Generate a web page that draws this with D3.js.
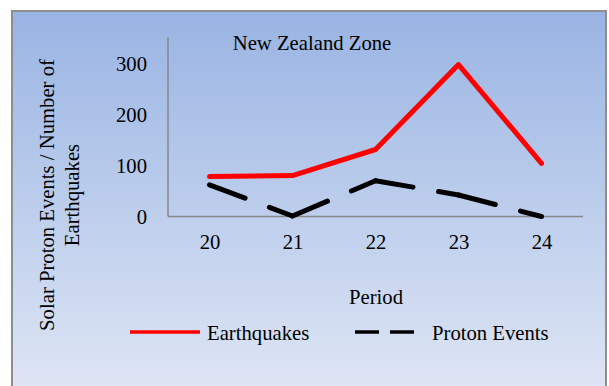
<!DOCTYPE html>
<html>
<head>
<meta charset="utf-8">
<script src="https://cdn.jsdelivr.net/npm/d3@7"></script>
<style>
  html, body { margin: 0; padding: 0; background: #ffffff; }
  svg { display: block; }
  text { font-family: "Liberation Serif", "Times New Roman", serif; fill: #000; }
</style>
</head>
<body>
<svg id="chart" width="609" height="386"></svg>
<script>
// Solar cycles on the x axis
const periods = ["20", "21", "22", "23", "24"];
// Number of earthquakes per cycle
const earthquakes = [78, 80, 131, 297, 104];
// Number of solar proton events per cycle
const protonEvents = [62, 1, 70, 42, 0];
const yTicks = [0, 100, 200, 300];
const yMax = 350;

const title = "New Zealand Zone";
const xTitle = "Period";
const yTitleLines = ["Solar Proton Events / Number of", "Earthquakes"];
const seriesNames = ["Earthquakes", "Proton Events"];

const fontSize = 20.7;
const svg = d3.select("#chart");

// Background panel with vertical blue gradient
const defs = svg.append("defs");
const grad = defs.append("linearGradient")
  .attr("id", "bg").attr("x1", 0).attr("y1", 0).attr("x2", 0).attr("y2", 1);
grad.append("stop").attr("offset", "0%").attr("stop-color", "#99b4e3");
grad.append("stop").attr("offset", "100%").attr("stop-color", "#e0e7f5");

svg.append("rect")
  .attr("x", 12).attr("y", 11).attr("width", 594).attr("height", 390)
  .attr("fill", "url(#bg)")
  .attr("stroke", "#8e8e8e").attr("stroke-width", 2);

// Plot area
const plotLeft = 168, plotRight = 583, plotTop = 37.5, plotBottom = 216.5;

const x = d3.scalePoint().domain(periods).range([plotLeft, plotRight]).padding(0.5);
const y = d3.scaleLinear().domain([0, yMax]).range([plotBottom, plotTop]);

// Axes (lines only, no tick marks)
const yAxis = svg.append("g").attr("transform", `translate(${plotLeft},0)`)
  .call(d3.axisLeft(y).tickValues(yTicks).tickSize(0).tickPadding(21).tickFormat(d3.format("d")));
yAxis.select(".domain").attr("stroke", "#878787").attr("stroke-width", 1.5)
  .attr("d", `M0,${plotTop}V${plotBottom}`);
yAxis.selectAll("text").attr("font-size", fontSize).attr("font-family", "Liberation Serif")
  .attr("dy", "0.34em");

const xAxis = svg.append("g").attr("transform", `translate(0,${plotBottom})`)
  .call(d3.axisBottom(x).tickSize(0).tickPadding(28));
xAxis.select(".domain").attr("stroke", "#878787").attr("stroke-width", 1.5)
  .attr("d", `M${plotLeft},0H${plotRight}`);
xAxis.selectAll("text").attr("font-size", fontSize).attr("font-family", "Liberation Serif")
  .attr("dy", "0.2em");

// Earthquakes: solid red line
const line = d3.line().x(d => x(d[0])).y(d => y(d[1]));
const eqPts = periods.map((p, i) => [p, earthquakes[i]]);
svg.append("path")
  .attr("d", line(eqPts))
  .attr("fill", "none").attr("stroke", "#ff0000")
  .attr("stroke-width", 5).attr("stroke-linejoin", "round").attr("stroke-linecap", "round");

// Proton events: long-dash black line, dash pattern restarting at each point
const prPts = periods.map((p, i) => [p, protonEvents[i]]);
d3.pairs(prPts).forEach(seg => {
  svg.append("path")
    .attr("d", line(seg))
    .attr("fill", "none").attr("stroke", "#000000")
    .attr("stroke-width", 5).attr("stroke-linecap", "round")
    .attr("stroke-dasharray", "38,26");
});

// Titles
svg.append("text").attr("x", 312).attr("y", 50).attr("text-anchor", "middle")
  .attr("font-size", fontSize).text(title);

svg.append("text").attr("x", 376).attr("y", 304).attr("text-anchor", "middle")
  .attr("font-size", fontSize).text(xTitle);

const yt = svg.append("text")
  .attr("transform", "translate(54,195) rotate(-90)")
  .attr("text-anchor", "middle").attr("font-size", fontSize);
yt.selectAll("tspan").data(yTitleLines).join("tspan")
  .attr("x", 0).attr("dy", (d, i) => i === 0 ? 0 : 25).text(d => d);

// Legend
const lg = svg.append("g");
lg.append("line").attr("x1", 130).attr("x2", 200).attr("y1", 332).attr("y2", 332)
  .attr("stroke", "#ff0000").attr("stroke-width", 3.5);
lg.append("text").attr("x", 207).attr("y", 340).attr("font-size", fontSize).text(seriesNames[0]);
lg.append("line").attr("x1", 355).attr("x2", 415).attr("y1", 332).attr("y2", 332)
  .attr("stroke", "#000000").attr("stroke-width", 3.5).attr("stroke-dasharray", "24,11");
lg.append("text").attr("x", 432).attr("y", 340).attr("font-size", fontSize).text(seriesNames[1]);
</script>
</body>
</html>
